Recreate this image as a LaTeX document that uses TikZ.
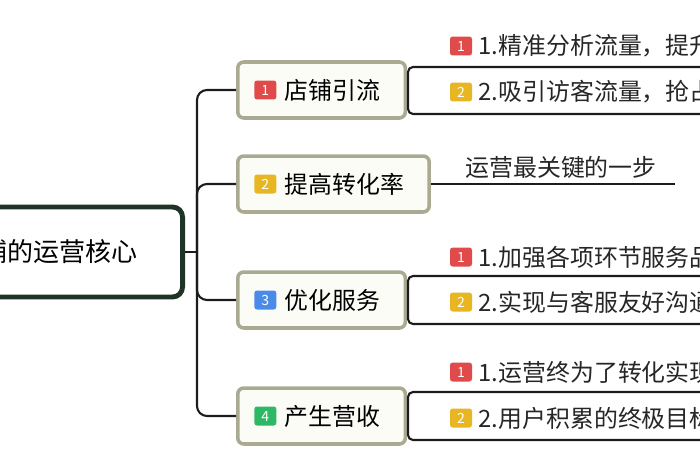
\documentclass[tikz,border=0pt]{standalone}
\usepackage{fontspec}
\setmainfont{Noto Sans CJK SC}
\usepackage{tikz}
\usetikzlibrary{positioning}
\usepackage{xcolor}
\definecolor{rootline}{HTML}{1F3327}
\definecolor{boxline}{HTML}{AAAA92}
\definecolor{boxfill}{HTML}{FCFCF7}
\definecolor{linkcol}{HTML}{1C1C1C}
\definecolor{badgered}{HTML}{E04A4A}
\definecolor{badgeyellow}{HTML}{E9B623}
\definecolor{badgeblue}{HTML}{4A8AE8}
\definecolor{badgegreen}{HTML}{2DB866}

\begin{document}
\begin{tikzpicture}[
    x=0.02cm, y=-0.02cm,
    root/.style={rectangle, draw=rootline, line width=2.8pt, rounded corners=0.2cm, fill=white,
        minimum height=1.8cm, inner xsep=0.9cm, font=\fontsize{14.8}{16}\selectfont},
    branch/.style={rectangle, draw=boxline, line width=2pt, rounded corners=0.12cm, fill=boxfill,
        minimum height=1.12cm, inner xsep=0.5cm, anchor=west, font=\fontsize{13.6}{15}\selectfont},
    badge/.style={rectangle, rounded corners=1.5pt, minimum width=0.44cm, minimum height=0.38cm,
        inner sep=0pt, text=white, font=\fontsize{8}{8}\selectfont},
    item/.style={inner sep=0pt, anchor=west, text=black!85, font=\fontsize{13.6}{15}\selectfont},
    link/.style={draw=linkcol, line width=1.2pt},
]
    \useasboundingbox (0,0) rectangle (700,470);

    % root
    \node[root, anchor=east] (root) at (185,252) {店铺的运营核心};

    % branches
    \node[branch] (b1) at (236,90) {\hspace*{0.44cm}店铺引流};
    \node[branch] (b2) at (236,184) {\hspace*{0.44cm}提高转化率};
    \node[branch] (b3) at (236,300) {\hspace*{0.44cm}优化服务};
    \node[branch] (b4) at (236,416) {\hspace*{0.44cm}产生营收};

    \node[badge, fill=badgered, right=0.36cm of b1.west] (g1) {1};
    \node[badge, fill=badgeyellow, right=0.36cm of b2.west] (g2) {2};
    \node[badge, fill=badgeblue, right=0.36cm of b3.west] (g3) {3};
    \node[badge, fill=badgegreen, right=0.36cm of b4.west] (g4) {4};

    % sub items
    \node[badge, fill=badgered] (g11) at (461,46) {1};
    \node[item, right=0.12cm of g11] (s11) {1.精准分析流量，提升};
    \node[badge, fill=badgeyellow] (g12) at (461,92) {2};
    \node[item, right=0.12cm of g12] (s12) {2.吸引访客流量，抢占};

    \node[item, anchor=center] (s21) at (561,167) {运营最关键的一步};

    \node[badge, fill=badgered] (g31) at (461,257) {1};
    \node[item, right=0.12cm of g31] (s31) {1.加强各项环节服务品};
    \node[badge, fill=badgeyellow] (g32) at (461,302) {2};
    \node[item, right=0.12cm of g32] (s32) {2.实现与客服友好沟通};

    \node[badge, fill=badgered] (g41) at (461,372) {1};
    \node[item, right=0.12cm of g41] (s41) {1.运营终为了转化实现};
    \node[badge, fill=badgeyellow] (g42) at (461,418) {2};
    \node[item, right=0.12cm of g42] (s42) {2.用户积累的终极目标};

    % trunk
    \coordinate (trunk) at (197,252);
    \draw[link] (root.east) -- (trunk);
    \foreach \b in {b1,b2,b3,b4}
        \draw[link, rounded corners=0.2cm] (trunk) |- (\b.west);

    % brackets
    \coordinate (k1) at (408,90);
    \coordinate (t11) at (720,67);
    \coordinate (t12) at (720,114);
    \draw[link] (b1.east) -- (k1);
    \draw[link, rounded corners=0.1cm] (t11) -| (k1) |- (t12);

    \coordinate (e2) at (675,184);
    \draw[link] (b2.east) -- (e2);

    \coordinate (k3) at (408,300);
    \coordinate (t31) at (720,276);
    \coordinate (t32) at (720,324);
    \draw[link] (b3.east) -- (k3);
    \draw[link, rounded corners=0.1cm] (t31) -| (k3) |- (t32);

    \coordinate (k4) at (408,416);
    \coordinate (t41) at (720,392);
    \coordinate (t42) at (720,440);
    \draw[link] (b4.east) -- (k4);
    \draw[link, rounded corners=0.1cm] (t41) -| (k4) |- (t42);
\end{tikzpicture}
\end{document}
